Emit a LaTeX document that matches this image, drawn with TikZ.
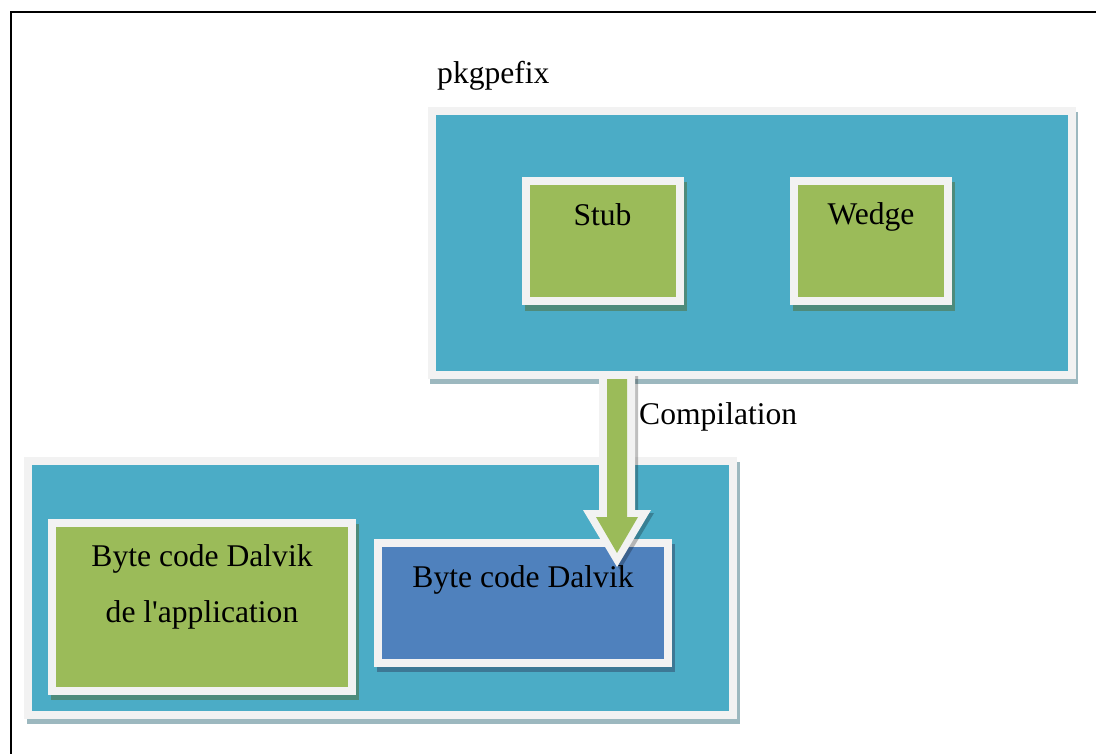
\documentclass[tikz,border=0pt]{standalone}
\usepackage{fontspec}
\setmainfont{Liberation Serif}[Ligatures=TeXOff]
\definecolor{boxborder}{HTML}{F2F2F2}
\definecolor{teal}{HTML}{4BACC6}
\definecolor{leaf}{HTML}{9BBB59}
\definecolor{steel}{HTML}{4F81BD}
\definecolor{shadowbig}{HTML}{9CB8BF}
\definecolor{shadowgreen}{HTML}{4E8B7B}
\definecolor{shadowblue}{HTML}{3D7895}
\begin{document}
\begin{tikzpicture}[x=1pt,y=-1pt,
  box/.style={draw=boxborder, line width=8pt, inner sep=0pt, outer sep=0pt},
  lbl/.style={inner sep=0pt, anchor=base, font=\fontsize{31.6}{54}\selectfont},
  frameline/.style={draw=black, line width=2pt}]
\useasboundingbox (0,0) rectangle (1096,753);
% frame
\coordinate (fbl) at (11,760);
\coordinate (ftl) at (11,12);
\coordinate (ftr) at (1100,12);
\draw[frameline] (fbl) -- (ftl) -- (ftr);
% top container
\fill[shadowbig] (430,112) rectangle (1078,384);
\node[box, fill=teal, minimum width=640pt, minimum height=264pt] (top) at (752,243) {};
\fill[shadowgreen] (525,182) rectangle (687,311);
\node[box, fill=leaf, minimum width=154pt, minimum height=120pt] (stub) at (603,241) {};
\fill[shadowgreen] (793,182) rectangle (955,311);
\node[box, fill=leaf, minimum width=154pt, minimum height=120pt] (wedge) at (871,241) {};
\node[lbl, anchor=base west] (pkg) at (437,83) {pkgpefix};
\node[lbl] (stubtxt) at (602.5,225) {Stub};
\node[lbl] (wedgetxt) at (871,224) {Wedge};
% bottom container
\fill[shadowbig] (27,462) rectangle (740,724);
\node[box, fill=teal, minimum width=705pt, minimum height=254pt] (bottom) at (380.5,588) {};
\fill[shadowgreen] (51,524) rectangle (359,700);
\node[box, fill=leaf, minimum width=300pt, minimum height=168pt] (app) at (202,607) {};
\fill[shadowblue] (377,544) rectangle (675,672);
\node[box, fill=steel, minimum width=290pt, minimum height=120pt] (dalvik) at (523,603) {};
\node[lbl] (apptxta) at (202,566) {Byte code Dalvik};
\node[lbl] (apptxtb) at (202,622) {de l'application};
% arrow
\fill[black, opacity=0.25] (602,376) -- (638,376) -- (638,513) -- (654,513) -- (620,570) -- (586,513) -- (602,513) -- cycle;
\fill[boxborder] (599,373) -- (635,373) -- (635,510) -- (651,510) -- (617,567) -- (583,510) -- (599,510) -- cycle;
\fill[leaf] (607,379) -- (627,379) -- (627,517) -- (638,517) -- (617,553) -- (596,517) -- (607,517) -- cycle;
\node[lbl] (dalviktxt) at (523,587) {Byte code Dalvik};
\node[lbl, anchor=base west] (comp) at (639,424) {Compilation};
\end{tikzpicture}
\end{document}
